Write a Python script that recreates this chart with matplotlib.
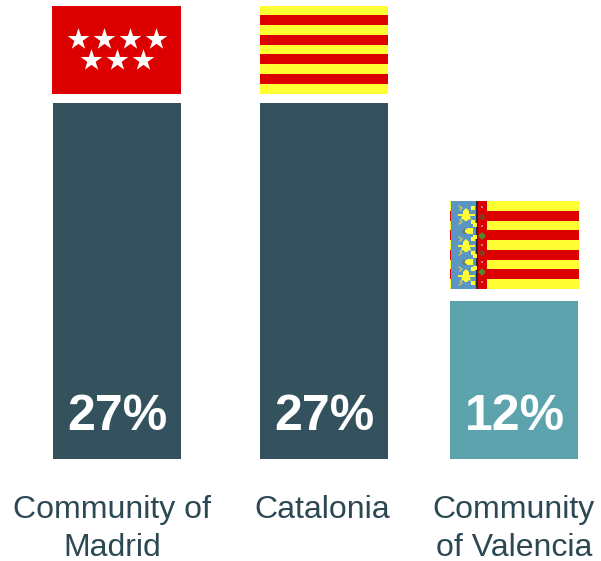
import matplotlib
matplotlib.use('Agg')
import matplotlib.pyplot as plt
from matplotlib.patches import Rectangle, Polygon

# Share per region
regions = ['Community of\nMadrid', 'Catalonia', 'Community\nof Valencia']
shares = [27, 27, 12]
bar_colors = ['#34525d', '#34525d', '#5da3ae']

RED = '#dc0000'
YELLOW = '#ffff33'
BLUE = '#5b95c4'

W, H = 601, 561
BASE_PX = 459      # pixel row of the zero line
PX_PER_UNIT = 13.2

# Bar extents in pixel columns
bar_left = [53, 260, 450]
bar_width = [128, 128, 128]
label_x = [112, 322, 514]

fig = plt.figure(figsize=(W / 100, H / 100), dpi=100, facecolor='white')
ax = fig.add_axes([0, 0, 1, 1])
ax.set_xlim(0, W)
ax.set_ylim((BASE_PX - H) / PX_PER_UNIT, BASE_PX / PX_PER_UNIT)
ax.axis('off')


def flag_axes(left, value, width=129, height=88, gap=9):
    # Small axes sitting just above a bar, in local pixel units
    bottom = ax.transData.transform((0, value))[1] + gap
    fa = fig.add_axes([left / W, bottom / H, width / W, height / H])
    fa.set_xlim(0, width)
    fa.set_ylim(height, 0)
    fa.axis('off')
    return fa


def stripes(fa, x0, width, height=88):
    # Nine bars, yellow first
    fa.add_patch(Rectangle((x0, 0), width, height, color=YELLOW, lw=0))
    for i in range(1, 9, 2):
        fa.add_patch(Rectangle((x0, i * height / 9), width, height / 9, color=RED, lw=0))


def fleur(fa, x, y, big=True):
    # Rough yellow lily for the blue panel of the Valencian flag
    if big:
        shape = [(-8, -1), (-3, -1), (-3, -4), (-1, -6), (0, -7), (1, -6), (3, -4), (3, -1),
                 (9, -1), (9, 1), (4, 1), (5, 5), (3, 4), (1, 6), (-1, 6), (-3, 4), (-5, 5),
                 (-4, 1), (-8, 1)]
        fa.plot([x - 7, x - 4, x - 6], [y - 9, y - 7, y - 5], color='#d8d440', lw=0.9)
        fa.plot([x - 7, x - 4, x - 6], [y + 9, y + 7, y + 5], color='#d8d440', lw=0.9)
        fa.scatter([x + 7, x + 7], [y - 7, y + 7], s=6, marker='s', color=YELLOW, lw=0)
    else:
        shape = [(-5, -1), (-2, -3), (3, -3), (3, 3), (-2, 3), (-5, 1)]
        fa.scatter([x - 6], [y], s=12, color='#6f7f5a', lw=0)
        fa.scatter([x + 5, x + 5], [y - 6, y + 6], s=6, marker='s', color=YELLOW, lw=0)
    fa.add_patch(Polygon([(x + a, y + b) for a, b in shape], color=YELLOW, lw=0))


# Bars and percentages
for i, (share, color) in enumerate(zip(shares, bar_colors)):
    ax.bar(bar_left[i], share, width=bar_width[i], align='edge', color=color, lw=0)
    ax.annotate(f'{share}%', (bar_left[i] + bar_width[i] / 2 + 0.5, 0), xytext=(0, 20.9),
                textcoords='offset points', ha='center', va='baseline', color='white',
                fontsize=36, fontweight='bold', family='Liberation Sans')

# Region names, one text per line
for x, name in zip(label_x, regions):
    for j, line in enumerate(name.split('\n')):
        ax.annotate(line, (x, 0), xytext=(0, -(518 - BASE_PX + 38 * j) * 0.72),
                    textcoords='offset points', ha='center', va='baseline',
                    color='#2b4853', fontsize=23, family='Liberation Sans',
                    annotation_clip=False)

# Madrid: red field with seven stars
fa = flag_axes(52, shares[0])
fa.add_patch(Rectangle((0, 0), 129, 88, color=RED, lw=0))
fa.scatter([26, 52, 78, 104, 39, 65, 91], [33, 33, 33, 33, 54, 54, 54],
           marker='*', s=270, color='white', lw=0)

# Catalonia: plain bars
fa = flag_axes(260, shares[1], width=128)
stripes(fa, 0, 128)

# Valencia: bars with a blue and red panel at the hoist
fa = flag_axes(450, shares[2], gap=11.6)
stripes(fa, 0, 129)
fa.add_patch(Rectangle((1, 0), 25, 88, color=BLUE, lw=0))
fa.add_patch(Rectangle((26, 0), 2, 88, color='#1c2a3a', lw=0))
fa.add_patch(Rectangle((28, 0), 9, 88, color=RED, lw=0))
for y, big in zip([14, 30, 45, 61, 75], [True, False, True, False, True]):
    fleur(fa, 16 if big else 20, y, big)
fa.scatter([32] * 5, [6, 25, 44, 61, 81], s=3, marker='s', color='#b0808a', lw=0)
fa.scatter([32] * 4, [16, 35, 52, 71], s=16, marker='D', color=['#8a3a20', '#4f8a30', '#8a3a20', '#4f8a30'], lw=0)

fig.savefig('out.png', dpi=100)
